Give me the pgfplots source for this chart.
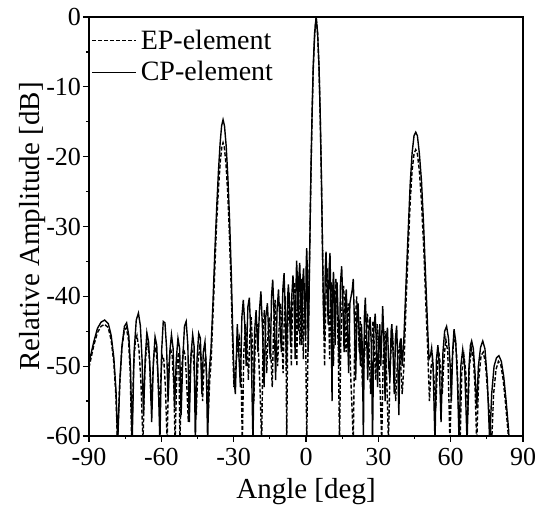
\documentclass[border=0pt]{standalone}
\usepackage{fontspec}
\setmainfont{Liberation Serif}
\usepackage{pgfplots}
\pgfplotsset{compat=1.18}

% pattern of the EP-element array (dashed)
\pgfplotstableread{
x y
-90 -50.2
-89 -48.6
-88 -47
-86.5 -45.2
-85 -44.3
-83.5 -44
-82 -44.5
-80.8 -46.3
-79.7 -49.5
-78.8 -54.5
-78.2 -61
-77.3 -53
-76.4 -47.6
-75.4 -45
-74.5 -44.5
-73.6 -46.3
-72.9 -51
-72.3 -61
-71.5 -50
-70.8 -46.5
-70.1 -45.6
-69.3 -47.5
-68.5 -52
-67.6 -61
-66.9 -51
-66.2 -47.5
-65.6 -46.8
-64.9 -49
-64.3 -55
-63.7 -52
-63.0 -48
-62.3 -47.3
-61.6 -50
-60.9 -56
-60.3 -52
-59.6 -48.5
-59 -49
-58.3 -53
-57.6 -61
-56.9 -50
-56.2 -47.5
-55.5 -48.5
-54.8 -53
-54.3 -61
-53.5 -50
-52.9 -48
-52.6 -52
-52.3 -61
-51.5 -50
-50.8 -47.5
-50.1 -48.5
-49.4 -53
-48.8 -58
-48.1 -50
-47.4 -47.6
-46.7 -48.5
-46.1 -53
-45.5 -57
-44.8 -49.5
-44.1 -47.3
-43.5 -48.5
-42.9 -55
-42.3 -50
-41.6 -48.5
-41.1 -52
-40.5 -57
-39.9 -52
-39.3 -49
-38.5 -42
-37.7 -35
-37 -29
-36.2 -24
-35.5 -20.5
-34.9 -18.6
-34.4 -18
-33.9 -18.6
-33.2 -21
-32.5 -25
-31.8 -31
-31.1 -38
-30.5 -46
-29.9 -53
-29.2 -50
-28.4 -47.5
-27.6 -46
-27 -50
-26.4 -61
-25.8 -48
-25.1 -44
-24.5 -46
-23.9 -52
-23.2 -45
-22.7 -43
-22.2 -47
-21.6 -55
-21 -46
-20.3 -44
-19.7 -48
-19.1 -53
-18.4 -61
-17.8 -46
-17.3 -42
-16.8 -45
-16.3 -51
-15.7 -45
-15.2 -43
-14.6 -48
-14.0 -53
-13.4 -44
-12.8 -40.5
-12.3 -45
-11.8 -50
-11.1 -44
-10.5 -41
-10 -46
-9.5 -51
-9.0 -43
-8.6 -40
-8.3 -47
-8.0 -61
-7.6 -45
-7.0 -39.5
-6.5 -43
-6.1 -50
-5.6 -42
-5.1 -39
-4.6 -38
-4.2 -44
-3.8 -50
-3.4 -37
-3.0 -40
-2.5 -47
-2.1 -39
-1.9 -37.5
-1.5 -42
-1.1 -49
-0.6 -38
-0.2 -43
0.3 -61
0.8 -48
1.2 -40
1.6 -32
2.0 -23.5
2.5 -14.5
3.0 -7.5
3.6 -2.4
4.2 0
4.8 -2.4
5.4 -7.5
5.9 -14.5
6.4 -23.5
6.8 -32
7.2 -41
7.7 -50
8.3 -40
8.8 -36
9.3 -41
9.8 -49
10.2 -41
10.5 -38
10.9 -43
11.4 -50
11.9 -41
12.4 -37.5
12.9 -41
13.4 -48
13.9 -61
14.4 -47
15.1 -40
15.6 -38.5
16.1 -42
16.6 -48
17.1 -43
17.5 -41
18 -45
18.6 -52
19.1 -56
19.6 -61
20.2 -46
21 -40
21.6 -44
22.1 -48
22.5 -43
22.9 -46
23.4 -53
24 -50
24.7 -46
25.5 -42.5
26.1 -47
26.8 -54
27.3 -47
27.8 -43.5
28.3 -47
28.9 -52
29.5 -44
30.1 -47
30.8 -54
31.4 -61
32.0 -49
32.8 -45
33.5 -52
34.2 -61
34.9 -50
35.4 -47
36 -46
36.6 -50
37.2 -55
37.8 -50
38.3 -48
38.8 -47
39.3 -50
39.9 -54
40.6 -50
41.5 -41
42.4 -33
43.2 -26.5
44 -22
44.8 -19.6
45.5 -19
46.2 -19.6
47 -22
47.9 -26.5
48.8 -33
49.7 -41
50.5 -48
51.2 -55
51.9 -50
52.5 -49
53.1 -52
53.8 -56
54.5 -50
55.1 -48
55.8 -50
56.5 -54
57.2 -49
58 -46.2
58.8 -48
59.7 -61
60.5 -50
61.2 -46.5
61.9 -46.2
62.6 -49
63.2 -55
63.9 -61
64.6 -51
65.5 -48.5
66.3 -51
67.1 -57
67.8 -50
68.6 -47.5
69.4 -49
70.1 -53
70.8 -61
71.6 -52
72.6 -48.5
73.5 -48
74.4 -49.5
75.4 -54
76.3 -58
77.0 -61
77.8 -54
78.8 -50.5
79.8 -49.3
80.8 -49.8
81.8 -52
82.8 -55.5
83.8 -59.5
84.4 -63
}\eptable

% pattern of the CP-element array (solid)
\pgfplotstableread{
x y
-90 -49.5
-89 -48
-88 -46.5
-86.5 -44.6
-85 -43.7
-83.5 -43.4
-82 -43.9
-80.8 -45.6
-79.7 -48.8
-78.8 -53.5
-78.1 -61
-77.2 -52
-76.3 -47
-75.3 -44.3
-74.4 -43.8
-73.5 -45.6
-72.8 -50
-72.1 -61
-71.3 -48
-70.4 -43.4
-69.5 -42.4
-68.7 -44.2
-68 -49
-67.4 -57
-66.7 -49
-66 -45.2
-65.3 -46.5
-64.6 -51
-64 -58
-63.3 -49.5
-62.6 -45.8
-61.9 -47
-61.2 -53
-60.6 -61
-59.9 -48
-59.2 -43.6
-58.5 -43.8
-57.8 -47.5
-57.2 -55
-56.5 -48
-55.8 -45.5
-55.1 -47.5
-54.5 -56
-53.8 -49
-53.1 -46
-52.4 -47.5
-51.8 -57
-51.1 -49
-50.4 -44.3
-49.7 -43.6
-49 -47
-48.4 -58
-47.7 -48.5
-47 -45.5
-46.4 -47.2
-45.9 -61
-45.2 -49
-44.5 -45.3
-43.8 -46
-43.2 -54
-42.6 -48
-41.9 -46.5
-41.3 -51
-40.8 -61
-40.2 -51
-39.4 -47.5
-38.6 -41
-37.8 -33.5
-37 -27
-36.3 -22
-35.6 -18
-35 -15.6
-34.4 -14.7
-33.8 -15.6
-33.1 -18.5
-32.4 -23
-31.7 -29
-31 -36.5
-30.4 -45
-29.8 -52
-29.3 -54
-28.5 -44
-27.9 -48
-27.2 -53
-26.6 -43
-26 -40.5
-25.4 -44
-24.8 -50
-24.1 -41.5
-23.5 -40.2
-22.8 -46
-22.0 -61
-21.3 -45
-20.7 -42
-20 -48
-19.3 -42
-18.7 -39.3
-18.0 -45
-17.4 -53
-16.7 -43
-16 -41
-15.4 -46
-14.8 -49
-14.3 -40
-13.8 -37.6
-13.2 -43
-12.6 -52
-12 -42
-11.4 -39
-10.8 -44
-10.2 -48
-9.6 -39
-9.1 -36.7
-8.6 -42
-8.1 -50
-7.6 -40
-7.3 -38.3
-6.9 -41
-6.4 -47
-5.9 -40
-5.4 -37
-4.9 -41
-4.5 -49
-4.1 -38
-3.9 -34.9
-3.5 -38
-3.2 -45
-2.9 -37
-2.6 -35.2
-2.2 -40
-1.8 -47
-1.4 -38
-1.0 -36
-0.6 -41
-0.2 -46
0.1 -35
0.3 -33.1
0.6 -37
0.9 -48
1.2 -42
1.6 -32
2.0 -23
2.5 -14
3.0 -7
3.6 -2.2
4.2 0
4.8 -2.2
5.4 -7
5.9 -14
6.4 -23
6.8 -32
7.2 -41
7.6 -46
8.0 -36
8.3 -33.6
8.7 -38
9.2 -44
9.6 -36
9.95 -33.8
10.4 -42
10.8 -55
11.1 -39
11.4 -36.5
11.8 -41
12.1 -47
12.5 -40
12.9 -38
13.4 -44
13.8 -50
14.3 -38
14.8 -35.7
15.3 -41
15.8 -48
16.3 -41
16.7 -39
17.2 -45
17.7 -51
18.2 -41
18.7 -40
19.2 -39
19.6 -37.5
20.1 -44
20.6 -52
21.1 -43
21.6 -41
22.1 -46
22.6 -50
23.0 -44
23.4 -48
23.8 -61
24.2 -43
24.6 -40.2
25.1 -45
25.6 -52
26.1 -45
26.6 -43
27.1 -47
27.6 -61
28.1 -45
28.7 -42.5
29.2 -47
29.7 -53
30.2 -46
30.6 -44
31.0 -50
31.4 -46
31.8 -41.4
32.3 -46
32.8 -55
33.3 -46
33.8 -44.5
34.3 -50
34.8 -52
35.3 -45
35.6 -44
36.1 -48
36.6 -54
37.1 -46
37.6 -44.2
38.1 -50
38.5 -57
39.0 -48
39.4 -46
39.9 -50
40.6 -46
41.5 -38
42.4 -30.5
43.2 -24
44 -19.5
44.8 -17
45.5 -16.5
46.2 -17
47 -19.5
47.9 -23.5
48.8 -30
49.7 -38
50.5 -45
51.0 -49
51.6 -48.5
52.1 -47.4
52.7 -50
53.5 -61
54.1 -49
54.7 -47
55.3 -50
56 -58
56.8 -48
57.5 -45
58.3 -44.3
59.1 -46
59.8 -50
60.3 -55
60.8 -48
61.4 -44.7
62.1 -46.5
62.8 -52
63.5 -61
64.2 -50
65 -47.6
65.8 -50
66.8 -61
67.6 -50
68.2 -47
68.7 -46.4
69.4 -47.5
70.1 -51
70.8 -56
71.5 -50
72.4 -47.3
73.3 -46.4
74.2 -47.5
75.2 -52
76.2 -61
77 -54
78 -50
79 -48.8
80 -48.5
81 -49.3
82 -51.5
83 -55
84 -59
84.6 -63
}\cptable

\begin{document}
\begin{tikzpicture}
\begin{axis}[
  name=ax,
  scale only axis,
  width=217pt, height=209.5pt,
  xmin=-90, xmax=90, ymin=-60, ymax=0,
  xtick={-90,-60,-30,0,30,60,90},
  xticklabels={-90,-60,-30,0,30,60,90},
  ytick={-60,-50,-40,-30,-20,-10,0},
  yticklabels={-60,-50,-40,-30,-20,-10,0},
  minor x tick num=1, minor y tick num=1,
  tick align=outside, tick pos=left,
  major tick length=3pt, minor tick length=1.5pt,
  tick style={black, line width=0.6pt},
  axis line style={line width=0.6pt},
  tick label style={font=\fontsize{13}{15}\selectfont},
  xticklabel style={yshift=0.5pt},
  yticklabel style={xshift=2.5pt},
  xlabel={Angle [deg]},
  ylabel={Relative Amplitude [dB]},
  label style={font=\fontsize{14.5}{17}\selectfont},
  xlabel style={at={(axis description cs:0.5,-0.1337)}, anchor=center},
  ylabel style={at={(axis description cs:-0.13,0.5)}, anchor=center},
  legend style={at={(axis description cs:0,0.99)}, anchor=north west,
    draw=none, fill=none, inner xsep=1pt, inner ysep=2pt, row sep=0.5pt,
    font=\fontsize{14}{16}\selectfont},
  legend cell align=left,
  legend image code/.code={\draw[#1] (0pt,0pt) -- (22pt,0pt);},
]
\addplot[black, line width=0.7pt, dash pattern=on 2pt off 1pt] table[x=x,y=y] {\eptable};
\addlegendentry{EP-element}
\addplot[black, line width=0.7pt] table[x=x,y=y] {\cptable};
\addlegendentry{CP-element}
\end{axis}
\pgfresetboundingbox
\path ([xshift=-44.5pt,yshift=-39pt]ax.south west) rectangle ([xshift=7pt,yshift=8.5pt]ax.north east);
\end{tikzpicture}
\end{document}
